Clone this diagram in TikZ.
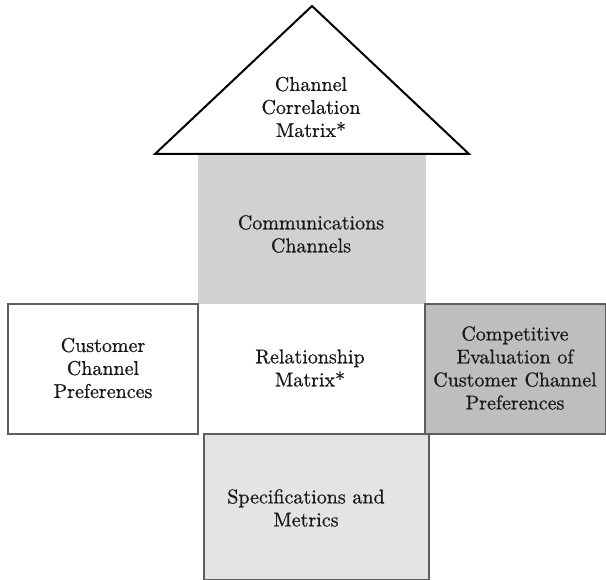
\documentclass[tikz,border=0pt]{standalone}
\usepackage{fontspec}
\newfontfamily\semib{lmroman10-regular.otf}[FakeBold=0.7]
\usetikzlibrary{positioning}
\definecolor{commgray}{HTML}{D1D1D3}
\definecolor{compgray}{HTML}{BDBEC0}
\definecolor{specgray}{HTML}{E3E4E6}
\definecolor{edgegray}{HTML}{5E5E5E}
\definecolor{inkcol}{HTML}{1A1718}
\tikzset{
  lbl/.style={align=center, text=inkcol, font=\semib\fontsize{20}{23}\selectfont, inner sep=0pt},
  panel/.style={draw=edgegray, line width=2pt, inner sep=0pt, anchor=north west}
}
\begin{document}
\begin{tikzpicture}[x=1pt,y=-1pt]
\useasboundingbox (0,0) rectangle (606,580);
% communications channels block
\fill[commgray] (198,154) rectangle (426,304);
\node[lbl] (comm) at (311,234) {Communications\\Channels};
% roof
\coordinate (tl) at (155,154);
\coordinate (tt) at (312,6);
\coordinate (tr) at (469,154);
\draw[line width=2pt, line join=miter, fill=white] (tl) -- (tt) -- (tr) -- cycle;
\node[lbl] (corr) at (311,107) {Channel\\Correlation\\Matrix*};
% left panel
\node[panel, fill=white, minimum width=190pt, minimum height=130pt] (custbox) at (7,303) {};
\node[lbl] (cust) at (103,368) {Customer\\Channel\\Preferences};
% right panel
\node[panel, fill=compgray, minimum width=181pt, minimum height=130pt] (compbox) at (424,303) {};
\node[lbl] (comp) at (515,368) {Competitive\\Evaluation of\\Customer Channel\\Preferences};
% center
\node[lbl] (rel) at (310,368) {Relationship\\Matrix*};
% bottom panel
\node[panel, fill=specgray, minimum width=225pt, minimum height=146pt] (specbox) at (203,433) {};
\node[lbl] (spec) at (306,508) {Specifications and\\Metrics};
\end{tikzpicture}
\end{document}
